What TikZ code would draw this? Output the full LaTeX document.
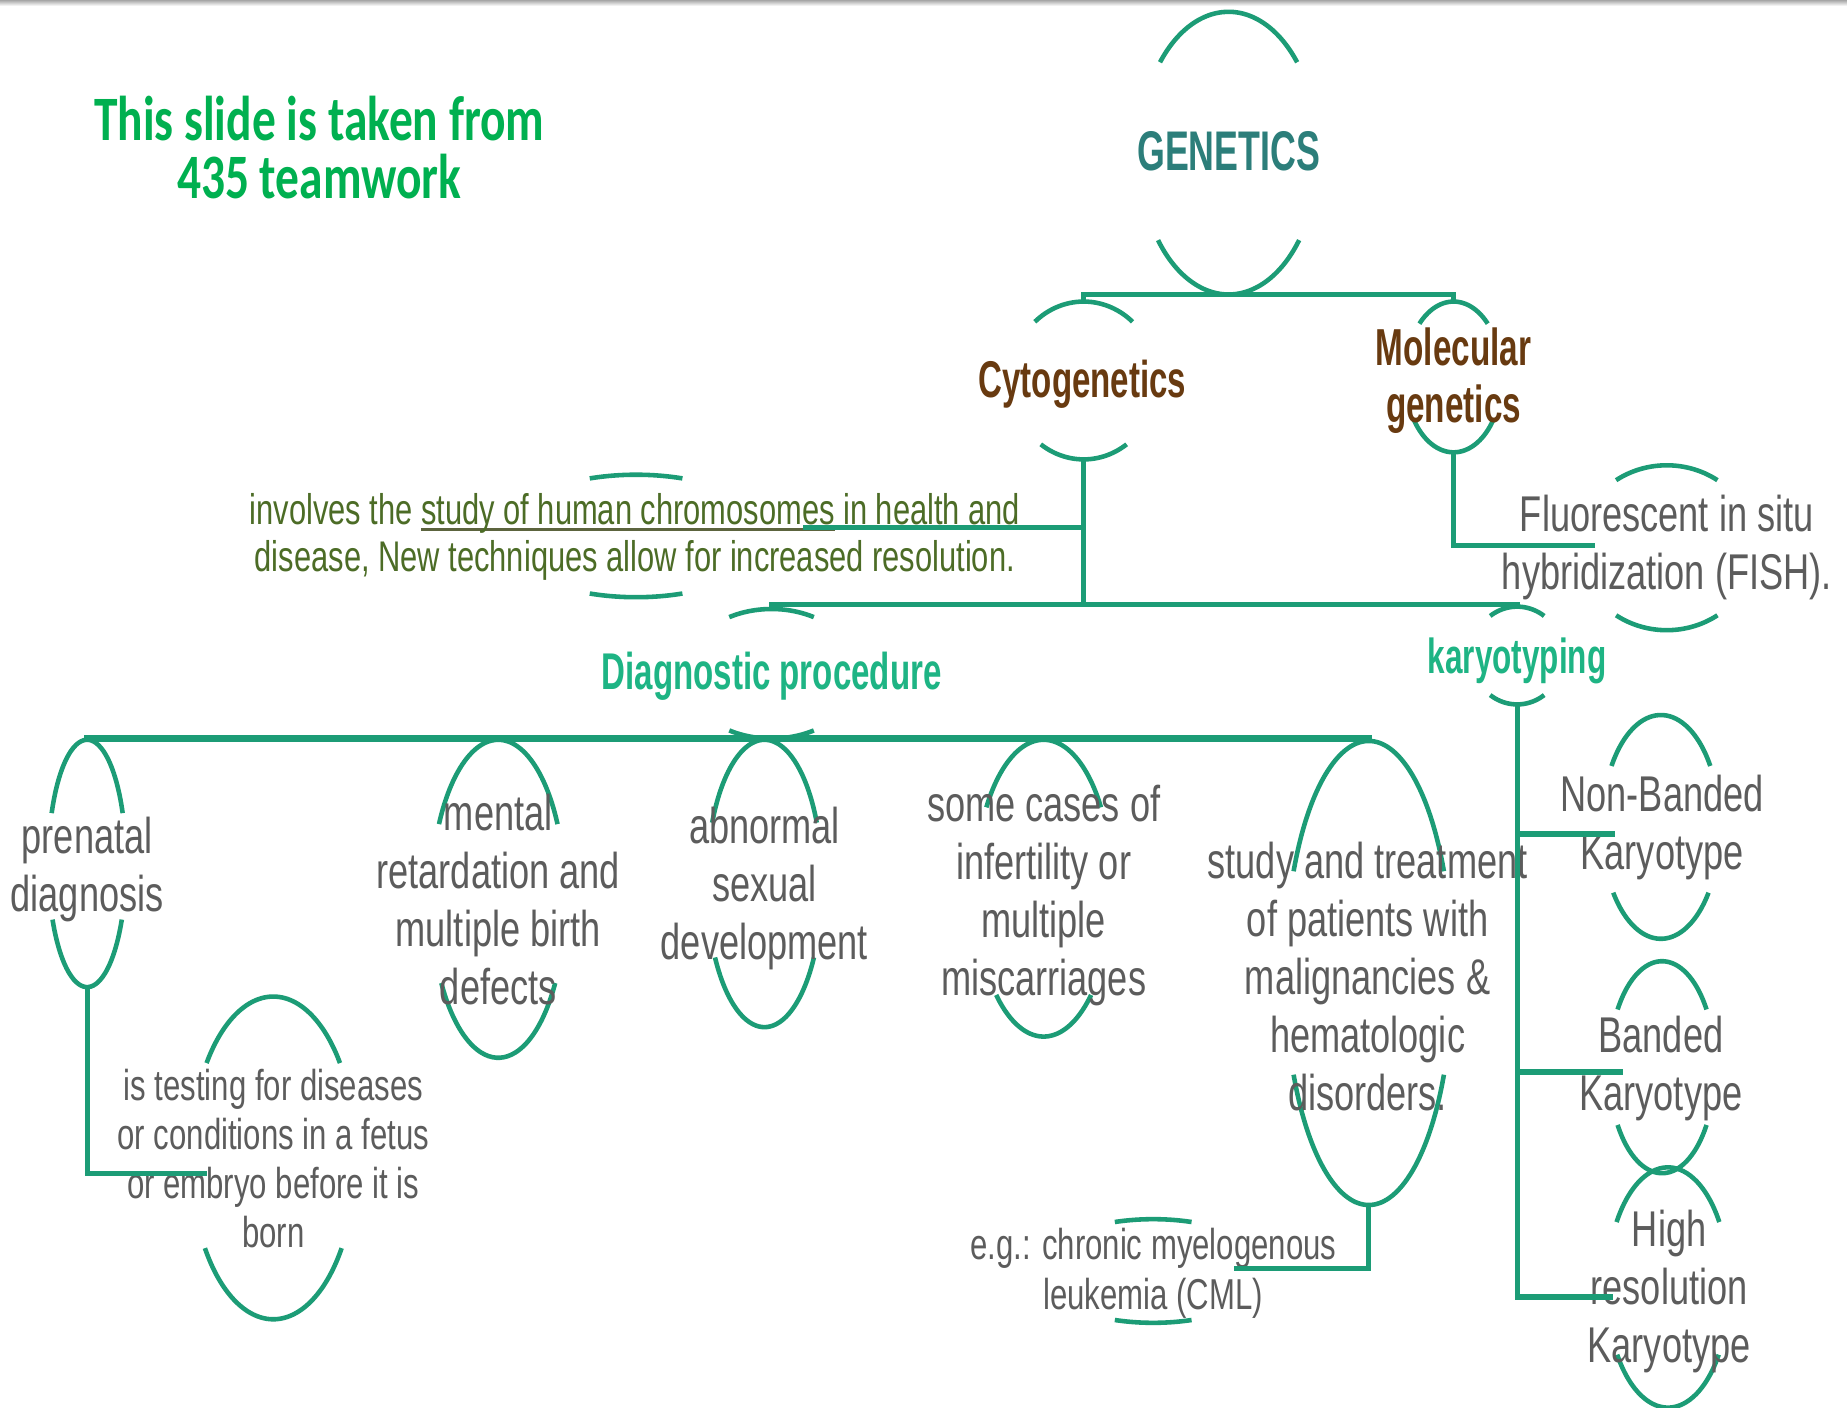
\documentclass[tikz,border=0pt]{standalone}
\usepackage{fontspec}
\setmainfont{Liberation Sans}
\newfontfamily\slidefont[FakeStretch=0.72]{Liberation Sans}
\newfontfamily\headfont[FakeStretch=0.64]{Liberation Sans}
\newfontfamily\notefont[FakeStretch=0.75]{Carlito}
\usepackage{xcolor}
\usepackage{tikz}

\definecolor{linkgreen}{RGB}{28,156,118}
\definecolor{notegreen}{RGB}{0,176,80}
\definecolor{genteal}{RGB}{44,126,122}
\definecolor{branchbrown}{RGB}{104,58,16}
\definecolor{procgreen}{RGB}{30,180,132}
\definecolor{textgray}{RGB}{92,92,92}
\definecolor{involvegreen}{RGB}{76,108,38}
\definecolor{underolive}{RGB}{92,100,62}

% top and bottom arcs of a concept oval: name, cx, cy, x radius, y radius, top cut, bottom cut
\newcommand{\ovalarcs}[7]{%
  \coordinate (#1-t) at (#2,#3-#5);
  \coordinate (#1-b) at (#2,#3+#5);
  \draw[ring] plot[domain=180+#6:360-#6, samples=36, smooth] ({#2+#4*cos(\x)},{#3+#5*sin(\x)});
  \draw[ring] plot[domain=#7:180-#7, samples=36, smooth] ({#2+#4*cos(\x)},{#3+#5*sin(\x)});
}
% underline that sits close to the baseline
\newcommand{\chromline}[1]{\setbox0=\hbox{#1}\rlap{\color{underolive}\rule[-1.8pt]{\wd0}{0.9pt}}\box0{}}

\begin{document}
\begin{tikzpicture}[
    x=0.011779cm, y=-0.011779cm,
    ring/.style={draw=linkgreen, line width=1.3pt},
    link/.style={draw=linkgreen, line width=1.5pt},
    bar/.style={link, line width=1.9pt},
    leaf/.style={font=\slidefont\fontsize{14.3}{16.5}\selectfont, text=textgray, align=center, inner sep=0pt},
    small leaf/.style={leaf, font=\slidefont\fontsize{12.3}{14}\selectfont},
    head/.style={font=\headfont\bfseries\fontsize{14.7}{16}\selectfont, align=center, inner sep=0pt},
]
    \useasboundingbox (0,0) rectangle (1568,1195);
    \fill[white] (0,0) rectangle (1568,1195);
    \fill[top color=gray!70, bottom color=white] (0,0) rectangle (1568,5);

    % Note (top left)
    \node[font=\notefont\bfseries\fontsize{18}{16.5}\selectfont, text=notegreen, align=center, inner sep=0pt] (note) at (271,125.5) {This slide is taken from\\435 teamwork};

    % Ovals
    \ovalarcs{gen}{1043}{130}{76}{120}{40}{38}
    \ovalarcs{cyto}{920}{323}{62}{67}{48}{54}
    \ovalarcs{mol}{1234}{320}{41}{64}{45}{35}
    \ovalarcs{invol}{540}{455}{115}{52}{70}{70}
    \ovalarcs{fish}{1415}{465}{75}{70}{55}{55}
    \ovalarcs{diag}{655}{572}{74}{55}{61}{61}
    \ovalarcs{karyo}{1288}{556.5}{39}{41.5}{54}{54}
    \ovalarcs{pren}{74}{733}{33}{105}{24}{27}
    \ovalarcs{mental}{423}{763}{57}{135}{28}{32}
    \ovalarcs{abnorm}{649}{750}{49}{122}{25}{31}
    \ovalarcs{infert}{886}{754}{58}{126}{33}{46}
    \ovalarcs{study}{1162}{826}{71}{197}{26}{26}
    \ovalarcs{test}{232}{983}{70}{137}{36}{34}
    \ovalarcs{cml}{979}{1079}{100}{44}{71}{71}
    \ovalarcs{nonband}{1410}{702}{50}{95}{33}{36}
    \ovalarcs{band}{1411}{906}{45}{90}{33}{33}
    \ovalarcs{highres}{1416}{1093}{52}{102}{33}{34}

    % Headings
    \node[head, font=\headfont\bfseries\fontsize{15.9}{17}\selectfont, text=genteal] (gen) at (1043,128) {GENETICS};
    \node[head, text=branchbrown] (cyto) at (919,326) {Cytogenetics};
    \node[head, font=\headfont\bfseries\fontsize{14.8}{16.2}\selectfont, text=branchbrown] (mol) at (1234,323) {Molecular\\genetics};
    \node[head, text=procgreen] (diag) at (655,574) {Diagnostic procedure};
    \node[head, font=\headfont\bfseries\fontsize{14}{16}\selectfont, text=procgreen] (karyo) at (1288,561) {karyotyping};

    % Text nodes
    \node[small leaf, font=\slidefont\fontsize{12.2}{13.4}\selectfont, text=involvegreen] (invol) at (539,456) {involves the \chromline{study of human chromosomes} in health and\\disease, New techniques allow for increased resolution.};
    \node[leaf] (fish) at (1415,464.5) {Fluorescent in situ\\hybridization (FISH).};
    \node[leaf] (pren) at (74,738.5) {prenatal\\diagnosis};
    \node[leaf] (mental) at (423,764) {mental\\retardation and\\multiple birth\\defects};
    \node[leaf] (abnorm) at (649,754) {abnormal\\sexual\\development};
    \node[leaf] (infert) at (886,760.5) {some cases of\\infertility or\\multiple\\miscarriages};
    \node[leaf] (study) at (1161,829) {study and treatment\\of patients with\\malignancies \&\\hematologic\\disorders.};
    \node[small leaf] (test) at (232,983.5) {is testing for diseases\\or conditions in a fetus\\or embryo before it is\\born};
    \node[small leaf] (cml) at (979,1081) {e.g.: chronic myelogenous\\leukemia (CML)};
    \node[leaf] (nonband) at (1411,702.5) {Non-Banded\\Karyotype};
    \node[leaf] (band) at (1410,907.5) {Banded\\Karyotype};
    \node[leaf] (highres) at (1417,1096.5) {High\\resolution\\Karyotype};

    % Free ends
    \coordinate (cyto-split) at (920,513);
    \coordinate (invol-end) at (682,448);
    \coordinate (fish-end) at (1354,463);
    \coordinate (test-end) at (176,996);
    \coordinate (cml-end) at (1048,1077);
    \coordinate (nonband-end) at (1371,708);
    \coordinate (band-end) at (1378,910);
    \coordinate (highres-end) at (1369,1101);

    % Connectors
    \draw[link] (cyto-t) |- (gen-b) -| (mol-t);
    \draw[link] (cyto-b) -- (cyto-split);
    \draw[link] (cyto-b |- invol-end) -- (invol-end);
    \draw[link] (diag-t) |- (cyto-split) -| (karyo-t);
    \draw[link] (mol-b) |- (fish-end);
    \draw[bar] (pren-t) |- (diag-b) -| (study-t);
    \draw[link] (pren-b) |- (test-end);
    \draw[link] (study-b) |- (cml-end);
    \draw[link] (karyo-b) |- (highres-end);
    \draw[link] (karyo-b |- nonband-end) -- (nonband-end);
    \draw[link] (karyo-b |- band-end) -- (band-end);
\end{tikzpicture}
\end{document}
